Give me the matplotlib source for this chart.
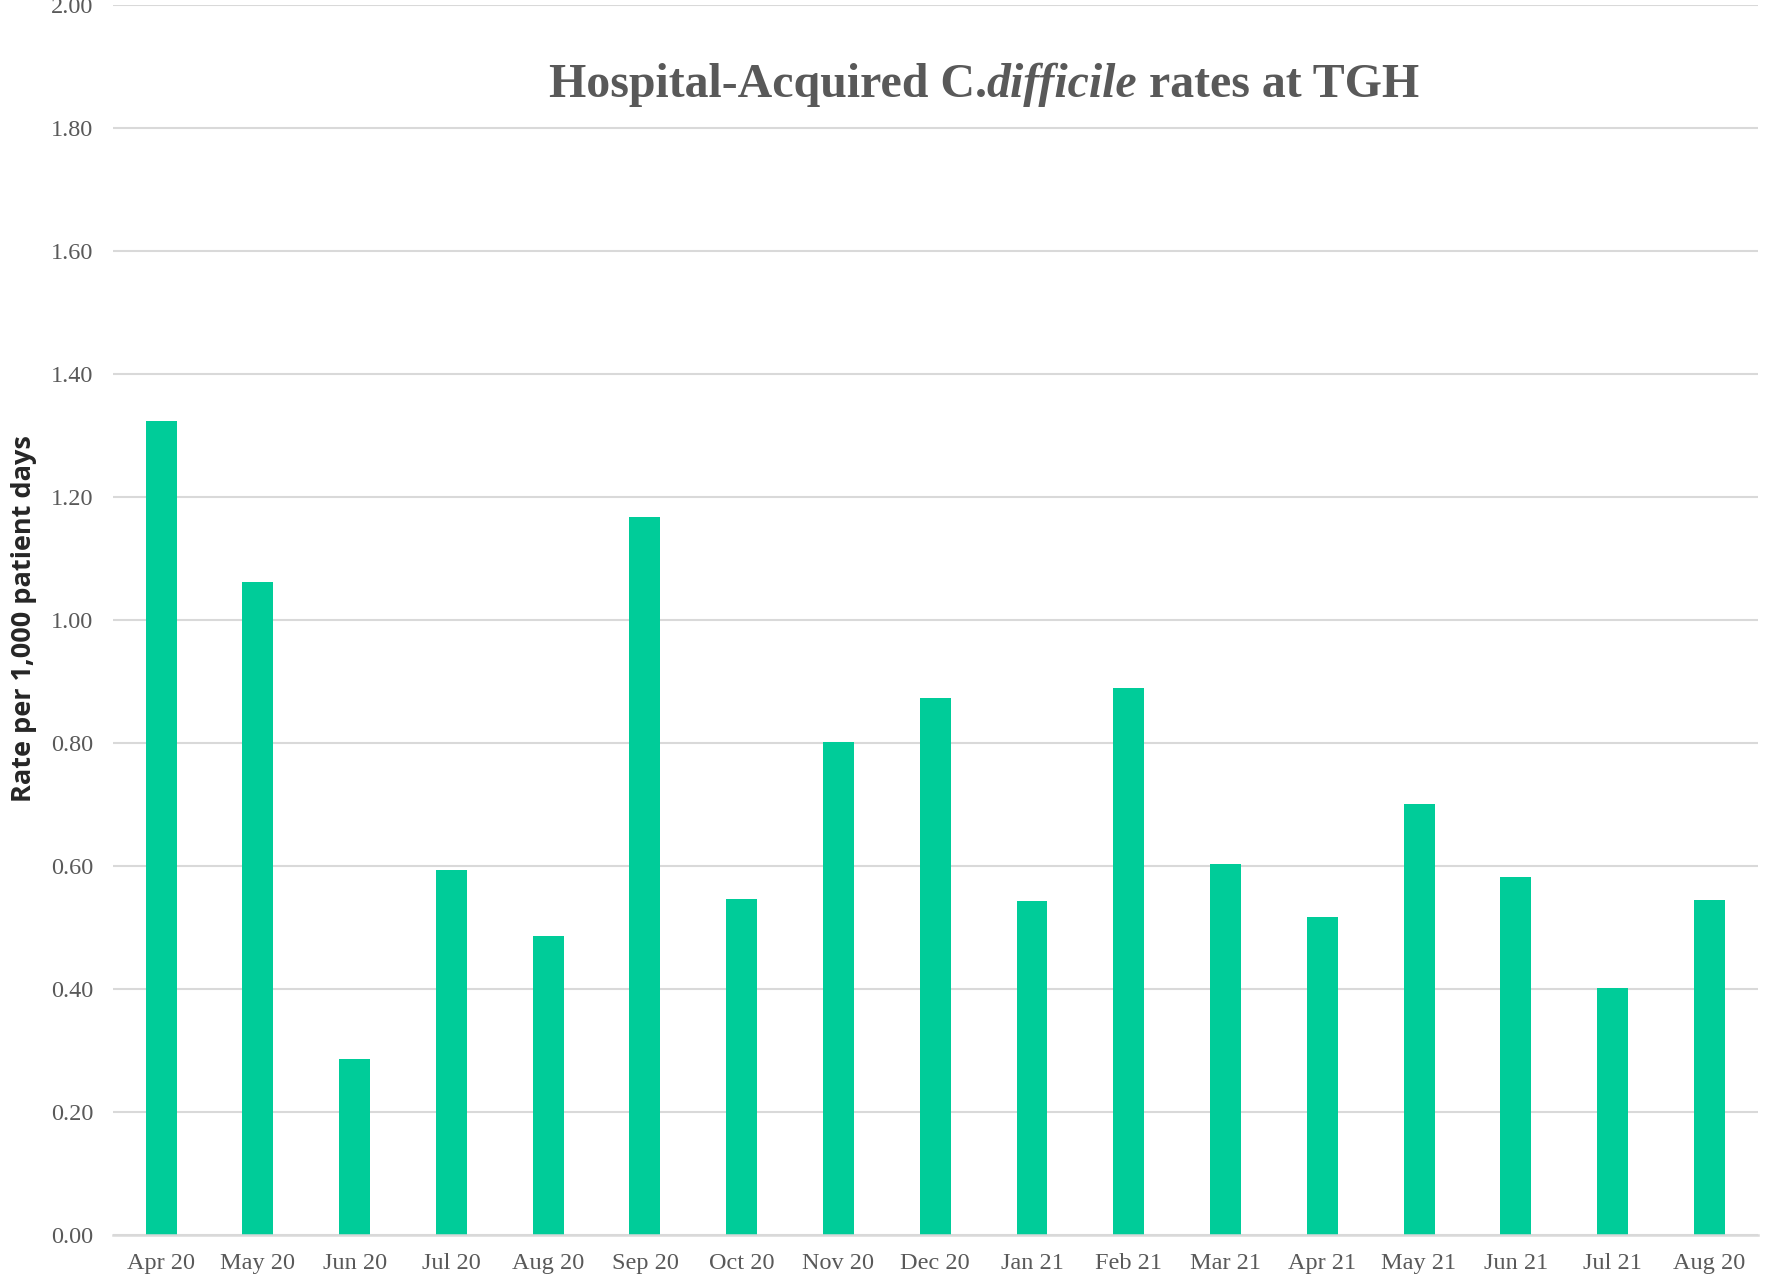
import matplotlib
matplotlib.use("Agg")
import matplotlib.pyplot as plt

months = ["Apr 20", "May 20", "Jun 20", "Jul 20", "Aug 20", "Sep 20", "Oct 20", "Nov 20",
          "Dec 20", "Jan 21", "Feb 21", "Mar 21", "Apr 21", "May 21", "Jun 21", "Jul 21", "Aug 20"]
rates = [1.323, 1.061, 0.286, 0.594, 0.486, 1.167, 0.547, 0.802,
         0.873, 0.543, 0.890, 0.604, 0.517, 0.701, 0.582, 0.402, 0.545]
yticks = [0.0, 0.2, 0.4, 0.6, 0.8, 1.0, 1.2, 1.4, 1.6, 1.8, 2.0]

W, H = 1769, 1274
fig = plt.figure(figsize=(W / 100, H / 100), dpi=100)
ax = fig.add_axes([112.8 / W, 1 - 1235 / H, (1757.7 - 112.8) / W, (1235 - 5) / H])

x = list(range(len(months)))
ax.bar(x, rates, width=0.32, color="#00CC99", zorder=3)
ax.set_xlim(-0.5, len(months) - 0.5)
ax.set_ylim(0, 2.0)
ax.set_yticks(yticks)
ax.set_yticklabels([f"{v:.2f}" for v in yticks])
ax.set_xticks(x)
ax.set_xticklabels(months)

serif = "Liberation Serif"
for lab in ax.get_xticklabels() + ax.get_yticklabels():
    lab.set_fontfamily(serif)
    lab.set_fontsize(17.5)
    lab.set_color("#595959")
ax.tick_params(axis="both", length=0)
ax.tick_params(axis="y", pad=14)
ax.tick_params(axis="x", pad=13)

ax.grid(axis="y", color="#D9D9D9", linewidth=1.5, zorder=0)
for s in ["top", "right", "left"]:
    ax.spines[s].set_visible(False)
ax.spines["bottom"].set_color("#D9D9D9")
ax.spines["bottom"].set_linewidth(1.8)
ax.spines["bottom"].set_zorder(4)

fig.text(24 / W, 1 - 619 / H, "Rate per 1,000 patient days", rotation=90,
         ha="center", va="center", fontsize=19.5, fontweight="bold",
         family="Open Sans", color="#262626")

# Title with italic part
parts = [("Hospital-Acquired C.", "normal"), ("difficile", "italic"), (" rates at TGH", "normal")]
fig.canvas.draw()
renderer = fig.canvas.get_renderer()
texts = []
for s, st in parts:
    t = fig.text(0, 1 - 85 / H, s, fontsize=34.5, fontweight="bold", style=st,
                 family=serif, color="#595959", va="center", ha="left")
    texts.append(t)
widths = [t.get_window_extent(renderer).width for t in texts]
total = sum(widths)
cx = 984
xpos = cx - total / 2
for t, w in zip(texts, widths):
    t.set_x(xpos / W)
    xpos += w

fig.savefig("out.png", dpi=100)
